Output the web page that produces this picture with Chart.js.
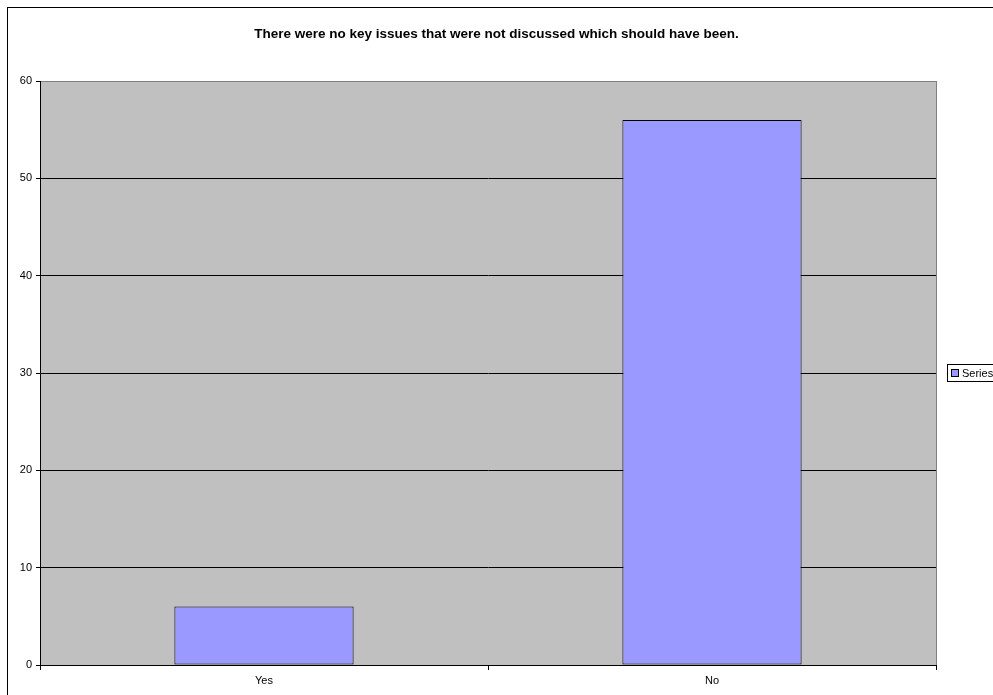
<!DOCTYPE html>
<html>
<head>
<meta charset="utf-8">
<script src="https://cdn.jsdelivr.net/npm/chart.js@4/dist/chart.umd.min.js"></script>
<style>
  html, body { margin: 0; padding: 0; background: #fff; }
  #wrap { width: 993px; height: 695px; }
</style>
</head>
<body>
<div id="wrap"><canvas id="myChart" width="993" height="695"></canvas></div>
<script>
// chart data
const categories = ["Yes", "No"];
const seriesName = "Series1";
const seriesValues = [6, 56];
const yTicks = [0, 10, 20, 30, 40, 50, 60];
const chartTitle = "There were no key issues that were not discussed which should have been.";

const fontFamily = "'Liberation Sans', Arial, sans-serif";

// grey plot area + outer frame + title centred on the whole page
const backgroundPlugin = {
  id: "frame",
  beforeDraw: (chart) => {
    const ctx = chart.ctx;
    const a = chart.chartArea;
    ctx.save();
    ctx.fillStyle = "#fff";
    ctx.fillRect(0, 0, chart.width, chart.height);
    ctx.strokeStyle = "#000";
    ctx.lineWidth = 1;
    ctx.strokeRect(7.5, 7.5, chart.width + 20, chart.height + 20);
    ctx.fillStyle = "#c0c0c0";
    ctx.fillRect(a.left, a.top, a.right - a.left, a.bottom - a.top);
    ctx.strokeStyle = "#808080";
    ctx.strokeRect(a.left + 0.5, a.top + 0.5, a.right - a.left, a.bottom - a.top);
    ctx.fillStyle = "#000";
    ctx.font = "bold 13.5px " + fontFamily;
    ctx.textAlign = "center";
    ctx.textBaseline = "middle";
    ctx.fillText(chartTitle, chart.width / 2, 34);
    ctx.restore();
  }
};

// legend box on the right, cut by the window edge like the original
const legendPlugin = {
  id: "boxLegend",
  afterDraw: (chart) => {
    const ctx = chart.ctx;
    const a = chart.chartArea;
    const ds = chart.data.datasets[0];
    const x = Math.round(a.right) + 11;
    const y = Math.round((a.top + a.bottom) / 2) - 9;
    ctx.save();
    ctx.fillStyle = "#fff";
    ctx.fillRect(x, y, 70, 17);
    ctx.strokeStyle = "#000";
    ctx.lineWidth = 1;
    ctx.strokeRect(x + 0.5, y + 0.5, 70, 17);
    ctx.fillStyle = ds.backgroundColor;
    ctx.fillRect(x + 4.5, y + 5.5, 7, 7);
    ctx.strokeRect(x + 4.5, y + 5.5, 7, 7);
    ctx.fillStyle = "#000";
    ctx.font = "11px " + fontFamily;
    ctx.textBaseline = "middle";
    ctx.fillText(ds.label, x + 15, y + 9.5);
    ctx.restore();
  }
};

const ctx = document.getElementById("myChart").getContext("2d");
const myChart = new Chart(ctx, {
  type: "bar",
  data: {
    labels: categories,
    datasets: [{
      label: seriesName,
      data: seriesValues,
      backgroundColor: "#9999ff",
      borderColor: "#000",
      borderWidth: 1,
      borderSkipped: false,
      categoryPercentage: 0.4,
      barPercentage: 1
    }]
  },
  plugins: [backgroundPlugin, legendPlugin],
  options: {
    responsive: false,
    animation: false,
    layout: { padding: { left: 7, right: 57, top: 81, bottom: 0 } },
    plugins: {
      legend: { display: false },
      tooltip: { enabled: false },
      title: { display: false }
    },
    scales: {
      x: {
        offset: true,
        grid: {
          offset: true,
          drawOnChartArea: false,
          drawTicks: true,
          tickLength: 5,
          color: "#000"
        },
        border: { color: "#000", width: 1 },
        ticks: {
          color: "#000",
          font: { family: fontFamily, size: 11 },
          padding: 4,
          maxRotation: 0
        },
        afterFit: (scale) => { scale.height = 30; }
      },
      y: {
        min: 0,
        max: 60,
        afterBuildTicks: (scale) => { scale.ticks = yTicks.map((v) => ({ value: v })); },
        grid: {
          color: (c) => (c.tick && c.tick.value === 60 ? "#808080" : "#000"),
          tickColor: "#000",
          tickLength: 4,
          drawTicks: true
        },
        border: { color: "#000", width: 1 },
        ticks: {
          color: "#000",
          font: { family: fontFamily, size: 11 },
          padding: 4
        },
        afterFit: (scale) => { scale.width = 33; }
      }
    }
  }
});
</script>
</body>
</html>
